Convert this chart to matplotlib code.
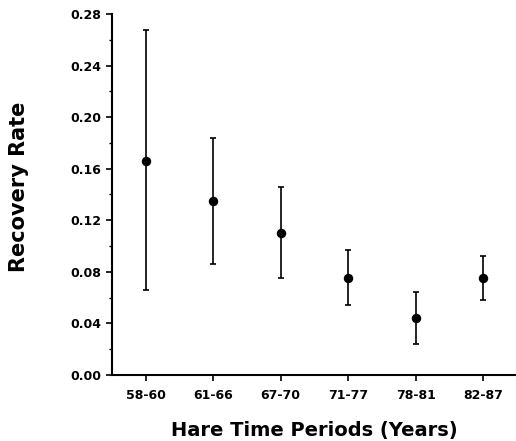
import matplotlib
matplotlib.use("Agg")
import matplotlib.pyplot as plt
from matplotlib.ticker import MultipleLocator, FormatStrFormatter

periods = ["58-60", "61-66", "67-70", "71-77", "78-81", "82-87"]
rate = [0.166, 0.135, 0.110, 0.075, 0.044, 0.075]
upper = [0.268, 0.184, 0.146, 0.097, 0.064, 0.092]
lower = [0.066, 0.086, 0.075, 0.054, 0.024, 0.058]

plt.rcParams['font.family'] = ['DejaVu Sans']
plt.rcParams['font.weight'] = 'bold'

fig = plt.figure(figsize=(5.16, 4.41), dpi=100)
ax = fig.add_axes([0.217, 0.150, 0.785, 0.818])

x = list(range(len(periods)))
yerr = [[r - l for r, l in zip(rate, lower)], [u - r for r, u in zip(rate, upper)]]
ax.errorbar(x, rate, yerr=yerr, fmt='o', color='black', ms=5.8, elinewidth=1.2,
            capsize=2.5, capthick=1.2)

ax.set_xlim(-0.5, 5.5)
ax.set_ylim(0, 0.28)
ax.yaxis.set_major_locator(MultipleLocator(0.04))
ax.yaxis.set_minor_locator(MultipleLocator(0.02))
ax.yaxis.set_major_formatter(FormatStrFormatter('%.2f'))
ax.set_xticks(x)
ax.set_xticklabels(periods)
for s in ['top', 'right']:
    ax.spines[s].set_visible(False)
for s in ['left', 'bottom']:
    ax.spines[s].set_linewidth(1.5)
ax.tick_params(axis='both', which='major', direction='out', length=4.5, width=1.2,
               labelsize=9)
ax.tick_params(axis='y', which='major', pad=3)
ax.tick_params(axis='x', which='major', pad=6)
ax.tick_params(axis='y', which='minor', direction='out', length=2.5, width=1.0)
for lab in ax.get_xticklabels() + ax.get_yticklabels():
    lab.set_fontweight('bold')
ax.set_xlabel("Hare Time Periods (Years)", fontsize=14, fontweight='bold')
ax.set_ylabel("Recovery Rate", fontsize=15, fontweight='bold')
ax.xaxis.set_label_coords(0.5, -0.128)
ax.yaxis.set_label_coords(-0.205, 0.52)

fig.savefig("out.png", dpi=100)
